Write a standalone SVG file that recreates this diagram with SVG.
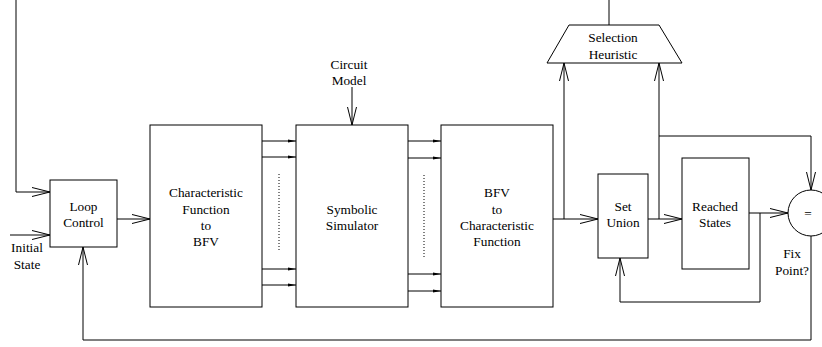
<svg xmlns="http://www.w3.org/2000/svg" width="822" height="347" viewBox="0 0 822 347">
<style>
.b{fill:#fff;stroke:#000;stroke-width:1}
.l{fill:none;stroke:#000;stroke-width:1}
.t{font-family:"Liberation Serif","Times New Roman",serif;font-size:13.3px;text-anchor:middle;fill:#000}
.o{marker-end:url(#open)}
.f{marker-end:url(#fill)}
.d{fill:none;stroke:#000;stroke-width:1;stroke-dasharray:1 2}
</style>
<defs>
<marker id="open" markerUnits="userSpaceOnUse" viewBox="-19 -6 20 12" refX="0" refY="0" markerWidth="20" markerHeight="12" orient="auto" overflow="visible">
<path d="M-18,-4.5 L0,0 L-18,4.5" fill="none" stroke="#000" stroke-width="1"/>
</marker>
<marker id="fill" markerUnits="userSpaceOnUse" viewBox="-9 -3 10 6" refX="0" refY="0" markerWidth="10" markerHeight="6" orient="auto" overflow="visible">
<path d="M-8,-1.6 L0,0 L-8,1.6 Z" fill="#000" stroke="none"/>
</marker>
</defs>
<g id="connectors">
<polyline class="l o" points="16,0 16,192 50,192"/>
<line class="l o" x1="10" y1="235" x2="50" y2="235"/>
<line class="l o" x1="117" y1="219" x2="150" y2="219"/>
<polyline class="l o" points="811,236 811,340 83,340 83,247"/>
<line class="l f" x1="262" y1="141" x2="296" y2="141"/>
<line class="l f" x1="262" y1="157" x2="296" y2="157"/>
<line class="l f" x1="262" y1="269" x2="296" y2="269"/>
<line class="l f" x1="262" y1="285" x2="296" y2="285"/>
<line class="d" x1="279" y1="174" x2="279" y2="250"/>
<line class="l o" x1="352" y1="87" x2="352" y2="125"/>
<line class="l f" x1="408" y1="141" x2="441" y2="141"/>
<line class="l f" x1="408" y1="158" x2="441" y2="158"/>
<line class="l f" x1="408" y1="274" x2="441" y2="274"/>
<line class="l f" x1="408" y1="291" x2="441" y2="291"/>
<line class="d" x1="424" y1="175" x2="424" y2="257"/>
<line class="l o" x1="553" y1="219" x2="598" y2="219"/>
<line class="l o" x1="564" y1="219" x2="564" y2="63"/>
<line class="l" x1="609" y1="25" x2="609" y2="0"/>
<line class="l o" x1="648" y1="219" x2="682" y2="219"/>
<line class="l o" x1="659" y1="219" x2="659" y2="63"/>
<polyline class="l o" points="659,136 811,136 811,190"/>
<line class="l o" x1="749" y1="213" x2="788" y2="213"/>
<polyline class="l o" points="760,213 760,302 620,302 620,258"/>
</g>
<g id="loop-control">
<rect class="b" x="50" y="180" width="67" height="67"/>
<text class="t" x="83.5" y="211">Loop</text>
<text class="t" x="83.5" y="227">Control</text>
</g>
<g id="initial-state">
<text class="t" x="27" y="252">Initial</text>
<text class="t" x="27" y="269">State</text>
</g>
<g id="char-to-bfv">
<rect class="b" x="150" y="125" width="112" height="182"/>
<text class="t" x="206" y="197">Characteristic</text>
<text class="t" x="206" y="214">Function</text>
<text class="t" x="206" y="230">to</text>
<text class="t" x="206" y="246">BFV</text>
</g>
<g id="circuit-model">
<text class="t" x="349" y="69">Circuit</text>
<text class="t" x="349" y="85">Model</text>
</g>
<g id="symbolic-simulator">
<rect class="b" x="296" y="125" width="112" height="182"/>
<text class="t" x="352" y="214">Symbolic</text>
<text class="t" x="352" y="230">Simulator</text>
</g>
<g id="bfv-to-char">
<rect class="b" x="441" y="125" width="112" height="182"/>
<text class="t" x="497" y="197">BFV</text>
<text class="t" x="497" y="214">to</text>
<text class="t" x="497" y="230">Characteristic</text>
<text class="t" x="497" y="246">Function</text>
</g>
<g id="selection-heuristic">
<polygon class="b" points="569,25 659,25 682,63 547,63"/>
<text class="t" x="613" y="42">Selection</text>
<text class="t" x="613" y="59">Heuristic</text>
</g>
<g id="set-union">
<rect class="b" x="598" y="174" width="50" height="84"/>
<text class="t" x="623" y="211">Set</text>
<text class="t" x="623" y="227">Union</text>
</g>
<g id="reached-states">
<rect class="b" x="682" y="158" width="67" height="111"/>
<text class="t" x="715" y="211">Reached</text>
<text class="t" x="715" y="227">States</text>
</g>
<g id="fix-point">
<circle class="b" cx="811" cy="213" r="23"/>
<text class="t" x="808" y="218">=</text>
<text class="t" x="792" y="258">Fix</text>
<text class="t" x="792" y="275">Point?</text>
</g>
</svg>
